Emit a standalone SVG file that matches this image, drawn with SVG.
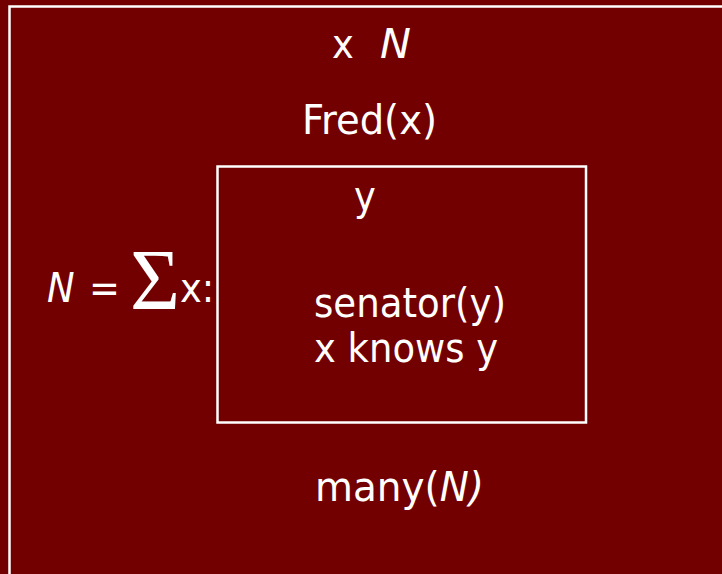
<svg xmlns="http://www.w3.org/2000/svg" width="722" height="574" viewBox="0 0 722 574">
<style>
.t{font-family:"DejaVu Sans Condensed","DejaVu Sans",sans-serif;font-size:41px;fill:#fff}
.i{font-style:italic}
.box{fill:none;stroke:#fff;stroke-width:2.5}
</style>
<rect width="722" height="574" fill="#720000"/>
<g id="outer">
<rect class="box" x="9.5" y="6.5" width="730" height="590"/>
<text class="t" x="332" y="58">x</text>
<text class="t i" x="380" y="58" textLength="31" lengthAdjust="spacingAndGlyphs">N</text>
<text class="t" x="302" y="134" textLength="135" lengthAdjust="spacingAndGlyphs">Fred(x)</text>
<text class="t" x="315" y="501" textLength="169" lengthAdjust="spacingAndGlyphs">many(<tspan class="i">N)</tspan></text>
</g>
<g id="sum">
<text class="t i" x="47" y="302">N</text>
<text class="t" x="89" y="302">=</text>
<text x="130" y="309" style="font-family:'Liberation Serif',serif;font-size:86px;fill:#fff">Σ</text>
<text class="t" x="180" y="302">x:</text>
</g>
<g id="inner">
<rect class="box" x="217.5" y="166.5" width="368.5" height="256"/>
<text class="t" x="354" y="210">y</text>
<text class="t" x="314" y="317" textLength="192" lengthAdjust="spacingAndGlyphs">senator(y)</text>
<text class="t" x="314" y="362" textLength="184" lengthAdjust="spacingAndGlyphs">x knows y</text>
</g>
<g id="connectors"/>
</svg>
